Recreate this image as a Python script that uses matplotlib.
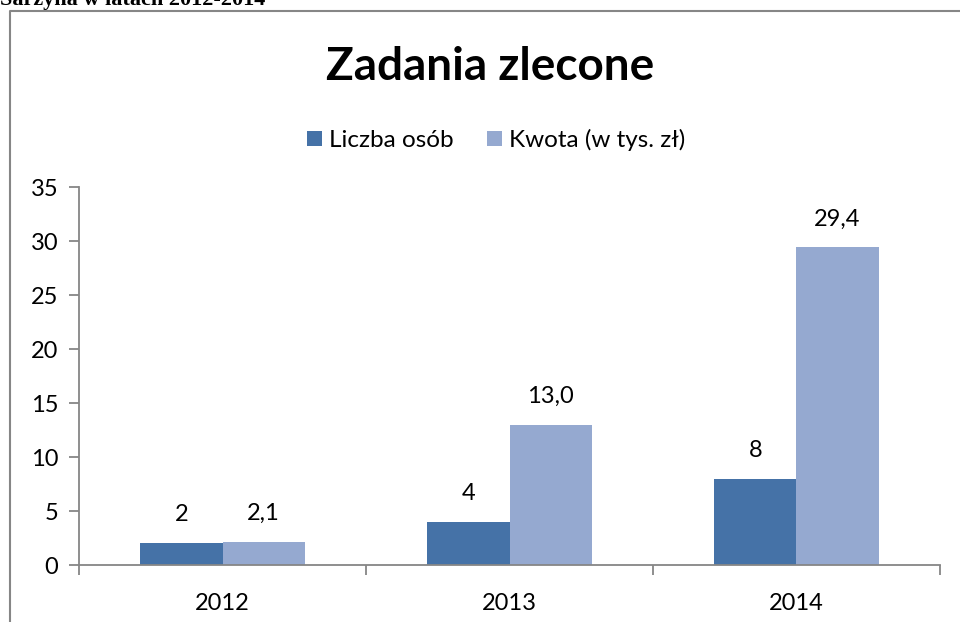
import matplotlib
matplotlib.use("Agg")
import matplotlib.pyplot as plt
import numpy as np
from matplotlib.lines import Line2D

years = ["2012", "2013", "2014"]
liczba_osob = [2, 4, 8]
kwota = [2.1, 13.0, 29.4]
series_names = ["Liczba osób", "Kwota (w tys. zł)"]
title = "Zadania zlecone"
header = "Sarzyna w latach 2012-2014"

dark = "#4572A7"
light = "#95A9D0"
gray = "#868686"

plt.rcParams['font.family'] = ['Lato', 'DejaVu Sans']

fig = plt.figure(figsize=(9.6, 6.22), dpi=100)
ax = fig.add_axes([79/960, 57/622, (940-79)/960, (565-187)/622])

x = np.arange(len(years))
w = 0.286
b1 = ax.bar(x - w/2, liczba_osob, w, color=dark, label=series_names[0])
b2 = ax.bar(x + w/2, kwota, w, color=light, label=series_names[1])

ax.bar_label(b1, labels=[str(v) for v in liczba_osob], padding=13, fontsize=17)
ax.bar_label(b2, labels=[f"{v:.1f}".replace(".", ",") for v in kwota], padding=13, fontsize=17)

ax.set_xlim(-0.5, 2.5)
ax.set_ylim(0, 35)
ax.set_yticks(range(0, 36, 5))
ax.set_xticks(x)
ax.set_xticklabels(years)
ax.set_xticks([-0.5, 0.5, 1.5, 2.5], minor=True)
ax.tick_params(axis='x', which='major', length=0, pad=20, labelsize=17)
ax.tick_params(axis='x', which='minor', length=7, color=gray, width=1.3)
ax.tick_params(axis='y', length=7, color=gray, width=1.3, labelsize=17, pad=8)

for s in ["top", "right"]:
    ax.spines[s].set_visible(False)
for s in ["left", "bottom"]:
    ax.spines[s].set_color(gray)
    ax.spines[s].set_linewidth(1.3)

fig.text(490/960, 1 - 80/622, title, ha='center', va='baseline',
         fontsize=33, fontweight='bold')

fig.legend(handles=[b1, b2], labels=series_names, loc='center',
           bbox_to_anchor=(496/960, 1 - 140/622), ncol=2, frameon=False,
           fontsize=17.5, handlelength=0.62, handleheight=0.62,
           handletextpad=0.3, columnspacing=1.35)

# chart frame
fig.add_artist(Line2D([10/960, 10/960, 1.0], [0.0, 1 - 11/622, 1 - 11/622],
                      transform=fig.transFigure, color=gray, linewidth=1.5))

fig.text(0, 1 - 5/622, header, ha='left', va='baseline', fontsize=16,
         fontweight='bold', family=['Liberation Serif'])

fig.savefig("out.png", dpi=100)
